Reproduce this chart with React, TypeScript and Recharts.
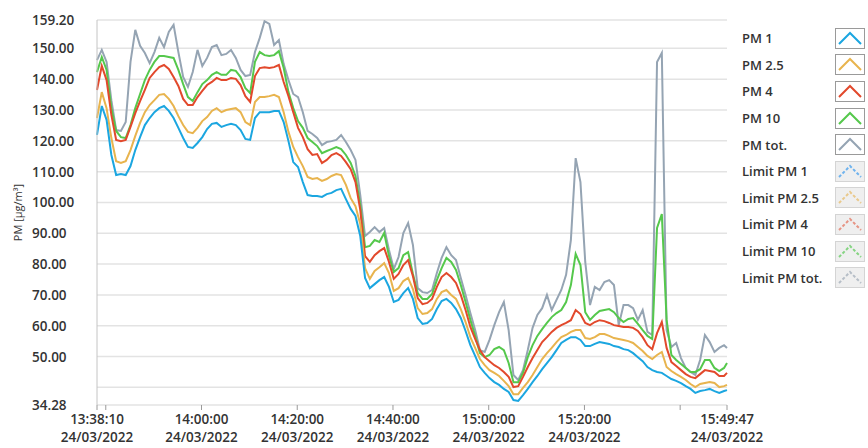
import { CartesianGrid, Line, LineChart, XAxis, YAxis } from "recharts";

// one reading per minute from 13:38:10, the last one at 15:49:47 (seconds of the day)
const START_SEC = 13 * 3600 + 38 * 60 + 10;
const END_SEC = 15 * 3600 + 49 * 60 + 47;
const sampleTimes = [...Array.from({ length: 132 }, (_, i) => START_SEC + i * 60), END_SEC];

const pm1 = [
  121.9, 131.3, 126.8, 115.4, 108.9, 109.2, 108.9, 111.8, 117.0, 121.2,
  125.1, 127.4, 129.3, 130.6, 131.3, 129.7, 127.4, 124.2, 120.9, 118.0,
  117.7, 119.3, 121.2, 123.8, 125.5, 125.8, 124.5, 125.1, 125.5, 125.1,
  123.5, 120.6, 120.3, 127.4, 129.3, 129.3, 129.3, 129.7, 129.7, 126.1,
  119.9, 113.1, 111.5, 106.6, 102.4, 102.1, 102.1, 101.8, 102.7, 103.1,
  104.0, 104.4, 101.1, 97.9, 95.6, 89.1, 75.5, 72.2, 73.5, 74.8,
  75.8, 72.6, 67.7, 68.4, 70.6, 72.2, 68.7, 62.5, 60.6, 60.9,
  62.2, 65.4, 68.0, 68.7, 67.4, 65.4, 62.5, 58.3, 53.7, 50.2,
  46.6, 44.7, 43.0, 41.7, 40.8, 39.5, 38.5, 35.9, 35.6, 37.5,
  39.5, 41.7, 43.7, 45.9, 47.9, 49.8, 52.1, 54.4, 55.4, 56.3,
  56.3, 55.4, 53.4, 53.4, 54.1, 54.7, 54.4, 54.1, 53.4, 53.1,
  52.4, 52.1, 51.1, 49.8, 48.5, 46.6, 45.6, 45.0, 44.7, 43.7,
  42.7, 42.1, 41.4, 40.4, 39.5, 38.2, 38.8, 39.1, 39.5, 38.8,
  38.2, 38.8, 39.1
];

const pm25 = [
  127.4, 135.8, 130.6, 120.9, 113.4, 112.8, 113.4, 117.0, 121.6, 125.8,
  129.3, 131.6, 133.2, 134.9, 135.2, 133.6, 131.3, 128.0, 125.1, 122.9,
  122.5, 124.2, 126.4, 127.7, 129.7, 130.6, 129.3, 130.0, 130.3, 130.6,
  129.3, 126.1, 125.1, 132.6, 134.2, 134.2, 134.5, 134.9, 134.2, 129.3,
  122.9, 118.0, 114.7, 111.8, 108.3, 107.6, 107.9, 107.0, 107.6, 108.6,
  109.2, 108.9, 105.7, 101.4, 98.8, 93.0, 78.7, 75.2, 77.8, 79.0,
  80.3, 77.1, 71.3, 72.2, 74.5, 75.5, 71.9, 65.7, 63.8, 64.1,
  65.4, 68.7, 70.9, 71.6, 70.0, 68.7, 65.4, 61.2, 56.3, 52.8,
  49.2, 47.2, 45.6, 44.7, 43.7, 42.1, 40.4, 37.8, 37.8, 39.8,
  41.7, 44.0, 46.6, 49.2, 51.1, 52.8, 54.7, 56.3, 57.0, 58.0,
  58.6, 58.6, 56.0, 55.7, 56.3, 57.3, 57.3, 56.7, 56.0, 55.7,
  55.4, 55.0, 54.4, 53.1, 51.8, 50.2, 49.2, 50.5, 51.5, 46.6,
  45.3, 44.3, 43.4, 42.4, 41.1, 40.1, 41.1, 41.4, 41.7, 41.4,
  40.1, 40.4, 40.8
];

const pm4 = [
  136.5, 144.3, 139.7, 128.4, 120.3, 119.9, 120.3, 124.5, 129.0, 132.9,
  136.5, 140.4, 142.3, 143.9, 144.6, 143.3, 140.7, 137.8, 133.6, 131.6,
  131.6, 134.2, 136.2, 138.1, 139.1, 140.4, 139.7, 139.7, 140.4, 140.1,
  138.1, 134.5, 132.6, 141.0, 143.6, 143.9, 143.6, 143.9, 144.6, 139.1,
  134.5, 129.3, 124.2, 121.2, 117.3, 115.4, 115.7, 112.8, 113.8, 115.4,
  116.0, 115.1, 113.1, 110.8, 106.6, 97.6, 82.6, 80.7, 82.9, 84.2,
  85.2, 80.7, 75.2, 76.8, 79.7, 81.3, 76.1, 69.0, 67.0, 67.4,
  68.7, 72.6, 75.8, 77.1, 75.8, 73.9, 70.0, 65.1, 59.6, 55.7,
  52.1, 49.8, 48.5, 47.2, 46.3, 45.0, 43.4, 40.1, 40.4, 43.4,
  46.6, 49.5, 52.1, 54.7, 56.3, 58.0, 59.3, 60.2, 60.9, 61.8,
  65.1, 63.8, 60.9, 60.2, 61.2, 61.8, 61.5, 60.9, 60.2, 59.9,
  59.6, 59.6, 59.3, 58.3, 56.3, 53.7, 52.4, 57.6, 61.2, 52.8,
  48.2, 46.9, 45.6, 44.3, 43.4, 43.0, 44.3, 45.6, 45.3, 45.0,
  43.7, 43.7, 44.7
];

const pm10 = [
  142.3, 147.2, 143.0, 130.6, 123.2, 121.2, 120.9, 125.1, 130.6, 135.2,
  139.7, 143.0, 145.6, 147.5, 147.5, 147.2, 146.9, 143.0, 138.4, 134.2,
  132.9, 135.8, 138.4, 139.7, 141.4, 142.3, 141.4, 141.4, 143.0, 142.7,
  140.7, 137.1, 135.5, 145.6, 148.8, 147.8, 147.5, 147.8, 149.1, 143.6,
  135.8, 130.6, 126.4, 124.2, 120.9, 119.6, 118.3, 116.0, 116.7, 117.3,
  118.0, 117.3, 115.4, 112.8, 108.6, 99.2, 85.5, 85.9, 87.8, 87.2,
  90.1, 82.6, 77.4, 78.7, 82.9, 83.9, 76.8, 70.6, 68.7, 68.7,
  70.3, 74.8, 78.7, 82.0, 80.7, 78.1, 73.2, 67.7, 61.9, 56.7,
  51.1, 49.8, 50.5, 52.4, 53.1, 52.1, 47.9, 41.7, 41.7, 44.7,
  49.8, 53.7, 56.7, 58.9, 60.9, 62.8, 64.1, 65.1, 67.7, 73.2,
  83.3, 79.7, 64.4, 61.9, 63.5, 64.8, 65.1, 65.4, 64.4, 62.5,
  61.2, 62.2, 62.5, 60.6, 58.6, 56.7, 55.7, 91.7, 96.2, 61.9,
  50.5, 48.9, 47.6, 46.3, 45.0, 45.0, 45.9, 48.9, 48.9, 46.3,
  45.3, 46.3, 47.9
];

const pmTot = [
  146.2, 149.5, 145.6, 133.2, 123.5, 123.2, 126.1, 145.6, 156.0, 150.8,
  148.5, 145.2, 148.8, 153.4, 150.4, 155.3, 157.6, 148.8, 140.7, 137.5,
  142.3, 149.5, 144.3, 146.9, 150.4, 151.1, 147.8, 148.2, 149.5, 146.9,
  143.0, 141.0, 141.4, 148.8, 153.4, 158.8, 157.9, 151.1, 152.7, 144.9,
  139.7, 135.2, 134.2, 129.3, 123.2, 122.2, 120.9, 118.6, 119.6, 119.9,
  120.3, 121.9, 119.6, 117.0, 113.8, 102.4, 89.1, 90.4, 92.0, 90.4,
  91.7, 84.6, 78.4, 82.3, 90.1, 93.3, 86.2, 72.2, 70.9, 70.6,
  71.6, 77.1, 82.0, 85.5, 82.9, 81.3, 75.5, 70.0, 64.1, 58.6,
  52.1, 51.5, 55.4, 60.2, 64.4, 67.7, 58.6, 44.0, 42.4, 45.6,
  52.1, 59.3, 63.5, 65.7, 70.0, 65.1, 68.4, 71.6, 76.5, 87.8,
  114.4, 106.6, 80.7, 66.7, 72.6, 71.6, 74.2, 74.8, 73.2, 60.2,
  66.7, 66.7, 65.7, 61.9, 65.1, 58.0, 57.0, 145.6, 148.5, 58.6,
  53.1, 54.4, 49.5, 46.3, 45.0, 44.0, 48.9, 57.0, 54.7, 51.5,
  52.8, 53.7, 52.8
];

const yTicks = [34.28, 40, 50, 60, 70, 80, 90, 100, 110, 120, 130, 140, 150, 159.2];
const yHiddenLabels = [40];
const xTicks = [START_SEC, 49200, 50400, 51600, 52800, 54000, 55200, 56400, END_SEC];
const xHiddenLabels = [49200, 56400];
const dateLabel = "24/03/2022";

const series = [
  { key: "pmTot", name: "PM tot.", color: "#95a4b3" },
  { key: "pm10", name: "PM 10", color: "#55c84c" },
  { key: "pm4", name: "PM 4", color: "#e2492c" },
  { key: "pm25", name: "PM 2.5", color: "#e8b44e" },
  { key: "pm1", name: "PM 1", color: "#1ba6e0" }
];

const legendItems = [
  { name: "PM 1", color: "#1ba6e0", limit: false },
  { name: "PM 2.5", color: "#e8b44e", limit: false },
  { name: "PM 4", color: "#e2492c", limit: false },
  { name: "PM 10", color: "#55c84c", limit: false },
  { name: "PM tot.", color: "#95a4b3", limit: false },
  { name: "Limit PM 1", color: "#6fb3ee", limit: true },
  { name: "Limit PM 2.5", color: "#e9c98c", limit: true },
  { name: "Limit PM 4", color: "#e69484", limit: true },
  { name: "Limit PM 10", color: "#85d482", limit: true },
  { name: "Limit PM tot.", color: "#b6bec7", limit: true }
];

const data = sampleTimes.map((time, i) => ({
  time,
  pm1: pm1[i],
  pm25: pm25[i],
  pm4: pm4[i],
  pm10: pm10[i],
  pmTot: pmTot[i]
}));

const FONT = "'Open Sans', 'Noto Sans', sans-serif";
const TEXT = "#333";

const pad = (n: number) => String(n).padStart(2, "0");
const clock = (s: number) => `${pad(Math.floor(s / 3600))}:${pad(Math.floor((s % 3600) / 60))}:${pad(s % 60)}`;

function XTick(props: any) {
  const { x, y, payload } = props;
  if (xHiddenLabels.includes(payload.value)) return <g />;
  return (
    <text x={x} y={y} textAnchor="middle" fontFamily={FONT} fontSize={13.5} fontWeight={600} fill={TEXT}>
      <tspan x={x} dy={12}>{clock(payload.value)}</tspan>
      <tspan x={x} dy={18}>{dateLabel}</tspan>
    </text>
  );
}

function YTick(props: any) {
  const { y, payload } = props;
  if (yHiddenLabels.includes(payload.value)) return <g />;
  return (
    <text x={32} y={y} dy={5} textAnchor="start" fontFamily={FONT} fontSize={13.5} fontWeight={600} fill={TEXT}>
      {payload.value.toFixed(2)}
    </text>
  );
}

function LegendBox() {
  return (
    <div style={{ position: "absolute", left: 742, top: 25, fontFamily: FONT }}>
      {legendItems.map((item) => (
        <div key={item.name} style={{ display: "flex", alignItems: "center", height: 26.6 }}>
          <span style={{ width: 93, fontSize: 13, fontWeight: 600, color: TEXT, whiteSpace: "nowrap" }}>{item.name}</span>
          <svg width={30} height={21} style={{ display: "block" }}>
            <rect
              x={0.5}
              y={0.5}
              width={29}
              height={20}
              fill={item.limit ? "#efefef" : "#fff"}
              stroke={item.limit ? "#d4d4d4" : "#9a9a9a"}
            />
            <polyline
              points="4,16 15,5 26,16"
              fill="none"
              stroke={item.color}
              strokeWidth={2}
              strokeDasharray={item.limit ? "3 2" : undefined}
            />
          </svg>
        </div>
      ))}
    </div>
  );
}

export default function App() {
  return (
    <div style={{ position: "absolute", left: 0, top: 0, width: 868, height: 448, background: "#fff" }}>
      <LineChart width={868} height={448} data={data} margin={{ top: 20, right: 141, bottom: 0, left: 12 }}>
        <CartesianGrid vertical={false} stroke="#e3e3e3" strokeWidth={1.5} />
        <XAxis
          dataKey="time"
          type="number"
          domain={[START_SEC, END_SEC]}
          ticks={xTicks}
          interval={0}
          height={43}
          axisLine={false}
          tickLine={{ stroke: "#9a9a9a" }}
          tickSize={5}
          tick={<XTick />}
        />
        <YAxis
          type="number"
          domain={[34.28, 159.2]}
          ticks={yTicks}
          interval={0}
          width={85}
          allowDataOverflow
          axisLine={{ stroke: "#c4c4c4" }}
          tickLine={false}
          tick={<YTick />}
          label={{
            value: "PM [µg/m³]",
            angle: -90,
            position: "insideLeft",
            offset: 6,
            style: { fontFamily: FONT, fontSize: 11, fill: TEXT, textAnchor: "middle" }
          }}
        />
        {series.map((s) => (
          <Line
            key={s.key}
            dataKey={s.key}
            name={s.name}
            type="linear"
            stroke={s.color}
            strokeWidth={2}
            dot={false}
            isAnimationActive={false}
          />
        ))}
      </LineChart>
      <LegendBox />
    </div>
  );
}
